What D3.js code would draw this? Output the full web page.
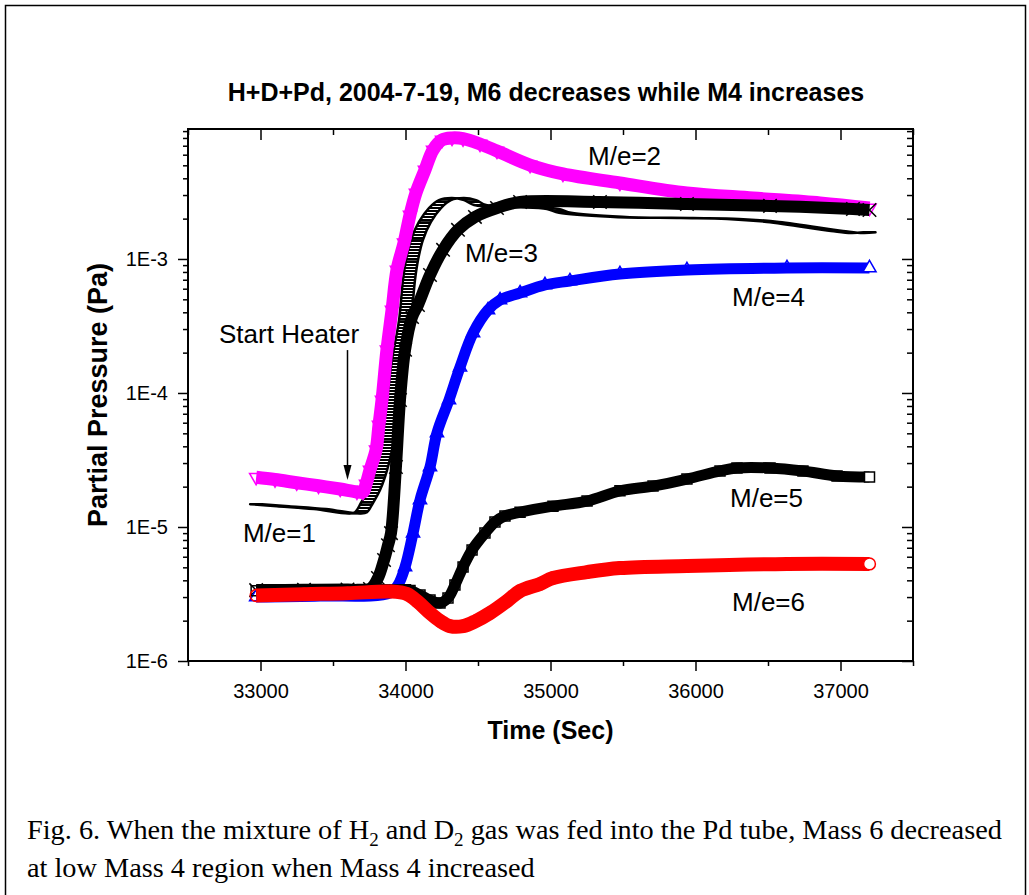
<!DOCTYPE html>
<html>
<head>
<meta charset="utf-8">
<script src="https://cdn.jsdelivr.net/npm/d3@7"></script>
<style>
  body { margin: 0; background: #fff; }
  svg { display: block; }
  .tick line { stroke: #000; stroke-width: 1.5; }
  .tick text { fill: #000; }
</style>
</head>
<body>
<script>
// ---- data (time in s, partial pressure in Pa) ----
var m1 = [[32970,1.48e-5],[33155,1.43e-5],[33410,1.36e-5],[33650,1.26e-5],[33693,1.29e-5],
  [33734,1.51e-5],[33783,1.89e-5],[33817,2.36e-5],[33845,3.0e-5],[33879,4.46e-5],[33914,8.87e-5],
  [33948,1.76e-4],[33997,3.5e-4],[34024,6.97e-4],[34045,9.83e-4],[34079,1.39e-3],[34134,1.89e-3],
  [34203,2.40e-3],[34272,2.75e-3],[34362,2.85e-3],[34445,2.75e-3],[34514,2.53e-3],[34790,2.44e-3],
  [35017,2.36e-3],[35100,2.21e-3],[35479,2.06e-3],[35941,2.02e-3],[36259,1.99e-3],[36534,1.89e-3],
  [36976,1.62e-3],[37114,1.56e-3],[37200,1.58e-3]];

var m2 = [[32970,2.35e-5],[33100,2.26e-5],[33250,2.14e-5],[33400,2.03e-5],[33550,1.92e-5],
  [33665,1.83e-5],[33707,1.82e-5],[33728,2.09e-5],[33755,2.66e-5],[33797,3.76e-5],[33817,5.77e-5],
  [33838,8.87e-5],[33872,2.1e-4],[33907,4.16e-4],[33941,8.28e-4],[33990,1.32e-3],[34031,2.13e-3],
  [34072,3.11e-3],[34134,4.61e-3],[34190,6.51e-3],[34252,7.73e-3],[34321,8.0e-3],[34397,7.9e-3],
  [34514,7.21e-3],[34631,6.4e-3],[34859,5.02e-3],[35086,4.31e-3],[35479,3.69e-3],[35941,3.11e-3],
  [36397,2.85e-3],[36859,2.62e-3],[37200,2.40e-3]];

var m3 = [[32970,3.38e-6],[33300,3.4e-6],[33600,3.42e-6],[33755,3.45e-6],[33810,4.16e-6],
  [33852,5.67e-6],[33879,7.3e-6],[33900,9.0e-6],[33934,2.8e-5],[33962,8.87e-5],[33997,2.1e-4],
  [34045,3.69e-4],[34086,4.54e-4],[34169,7.6e-4],[34259,1.17e-3],[34362,1.65e-3],[34479,2.06e-3],
  [34631,2.40e-3],[34790,2.66e-3],[35341,2.66e-3],[35941,2.57e-3],[36514,2.49e-3],[37086,2.36e-3],
  [37200,2.32e-3]];

var m4 = [[32970,3.0e-6],[33410,3.05e-6],[33893,3.22e-6],[33948,3.69e-6],[33997,5.03e-6],
  [34052,9.0e-6],[34100,1.59e-5],[34169,2.8e-5],[34217,5.03e-5],[34300,8.87e-5],[34376,1.56e-4],
  [34466,2.8e-4],[34569,4.16e-4],[34652,4.94e-4],[34790,5.57e-4],[34962,6.4e-4],[35134,6.85e-4],
  [35479,7.73e-4],[35941,8.28e-4],[36631,8.57e-4],[37200,8.57e-4]];

var m5 = [[32970,3.35e-6],[33300,3.38e-6],[33700,3.42e-6],[34000,3.4e-6],[34031,3.36e-6],
  [34100,3.11e-6],[34169,2.85e-6],[34238,2.71e-6],[34293,2.95e-6],[34341,3.69e-6],[34397,5.03e-6],
  [34459,6.74e-6],[34548,9.0e-6],[34617,1.09e-5],[34686,1.21e-5],[34790,1.29e-5],[35017,1.43e-5],
  [35252,1.56e-5],[35479,1.86e-5],[35707,2.02e-5],[35941,2.28e-5],[36169,2.62e-5],[36286,2.76e-5],
  [36514,2.76e-5],[36741,2.62e-5],[36976,2.40e-5],[37200,2.36e-5]];

var m6 = [[32970,3.08e-6],[33300,3.15e-6],[33600,3.2e-6],[33900,3.3e-6],[34010,3.16e-6],
  [34086,2.76e-6],[34169,2.28e-6],[34238,1.99e-6],[34307,1.82e-6],[34397,1.82e-6],[34486,1.99e-6],
  [34583,2.28e-6],[34700,2.8e-6],[34790,3.33e-6],[34928,3.76e-6],[35017,4.16e-6],[35252,4.61e-6],
  [35479,4.94e-6],[35941,5.12e-6],[36631,5.3e-6],[37200,5.3e-6]];

var xTicks = [33000, 34000, 35000, 36000, 37000];
var xMinorTicks = [32500, 33500, 34500, 35500, 36500, 37500];
var yTicks = [1e-6, 1e-5, 1e-4, 1e-3];
var yTickLabels = ['1E-6', '1E-5', '1E-4', '1E-3'];

// text annotations, placed in data coordinates
var notes = [
  { text: 'Start Heater', t: 32714, v: 2.36e-4 },
  { text: 'M/e=1', t: 32879, v: 7.73e-6 },
  { text: 'M/e=2', t: 35259, v: 5.03e-3 },
  { text: 'M/e=3', t: 34410, v: 9.5e-4 },
  { text: 'M/e=4', t: 36252, v: 4.46e-4 },
  { text: 'M/e=5', t: 36238, v: 1.41e-5 },
  { text: 'M/e=6', t: 36252, v: 2.36e-6 }
];
var heater = { t: 33600, from: 2.09e-4, to: 2.24e-5 };

var width = 1029,
    height = 895,
    margin = { top: 129, right: 116, bottom: 234, left: 188 };

var sans = '"Liberation Sans", Arial, sans-serif',
    serif = '"Liberation Serif", "Times New Roman", serif';

var svg = d3.select('body').append('svg')
    .attr('width', width)
    .attr('height', height);

var plotW = width - margin.left - margin.right,
    plotH = height - margin.top - margin.bottom;

var x = d3.scaleLinear().domain([32500, 37500]).range([0, plotW]),
    y = d3.scaleLog().domain([1e-6, 9.33e-3]).range([plotH, 0]);

// outer frame of the figure
svg.append('rect')
    .attr('x', 5.5).attr('y', 5.5)
    .attr('width', 1020).attr('height', 1000)
    .attr('fill', 'none')
    .attr('stroke', '#000')
    .attr('stroke-width', 1.5);

// hatch used for the stacked dash markers of M/e=1
svg.append('defs').append('pattern')
    .attr('id', 'dashes')
    .attr('width', 4).attr('height', 3)
    .attr('patternUnits', 'userSpaceOnUse')
  .append('rect')
    .attr('width', 4).attr('height', 2)
    .attr('fill', '#000');

var g = svg.append('g')
    .attr('transform', 'translate(' + margin.left + ',' + margin.top + ')');

svg.append('text')
    .attr('x', 546).attr('y', 101)
    .attr('text-anchor', 'middle')
    .attr('font-family', sans)
    .attr('font-size', 25)
    .attr('font-weight', 'bold')
    .text('H+D+Pd, 2004-7-19, M6 decreases while M4 increases');

// ---- axes: labelled ticks outward on left/bottom, mirror ticks inward ----
function styleAxis(sel) {
  sel.select('.domain').remove();
  sel.attr('font-family', sans).attr('font-size', 20);
}

var yMinor = [];
yTicks.forEach(function(p) {
  for (var k = 2; k <= 9; k++) yMinor.push(p * k);
});

g.append('g')
    .attr('transform', 'translate(0,' + plotH + ')')
    .call(d3.axisBottom(x).tickValues(xTicks).tickSize(10).tickPadding(13)
      .tickFormat(d3.format('d')))
    .call(styleAxis);
g.append('g')
    .attr('transform', 'translate(0,' + plotH + ')')
    .call(d3.axisBottom(x).tickValues(xMinorTicks).tickSize(5).tickFormat(''))
    .call(styleAxis);
g.append('g')
    .call(d3.axisBottom(x).tickValues(xTicks).tickSize(11).tickFormat(''))
    .call(styleAxis);
g.append('g')
    .call(d3.axisBottom(x).tickValues(xMinorTicks).tickSize(6).tickFormat(''))
    .call(styleAxis);

g.append('g')
    .call(d3.axisLeft(y).tickValues(yTicks).tickSize(10).tickPadding(10)
      .tickFormat(function(d, i) { return yTickLabels[i]; }))
    .call(styleAxis);
g.append('g')
    .call(d3.axisLeft(y).tickValues(yMinor).tickSize(5).tickFormat(''))
    .call(styleAxis);
g.append('g')
    .attr('transform', 'translate(' + plotW + ',0)')
    .call(d3.axisLeft(y).tickValues(yTicks).tickSize(11).tickFormat(''))
    .call(styleAxis);
g.append('g')
    .attr('transform', 'translate(' + plotW + ',0)')
    .call(d3.axisLeft(y).tickValues(yMinor).tickSize(6).tickFormat(''))
    .call(styleAxis);

g.append('rect')
    .attr('width', plotW).attr('height', plotH)
    .attr('fill', 'none')
    .attr('stroke', '#000')
    .attr('stroke-width', 2);

// axis titles
svg.append('text')
    .attr('x', margin.left + plotW / 2).attr('y', 739)
    .attr('text-anchor', 'middle')
    .attr('font-family', sans).attr('font-size', 25).attr('font-weight', 'bold')
    .text('Time (Sec)');
svg.append('text')
    .attr('transform', 'translate(107,' + (margin.top + plotH / 2) + ') rotate(-90)')
    .attr('text-anchor', 'middle')
    .attr('font-family', sans).attr('font-size', 27).attr('font-weight', 'bold')
    .text('Partial Pressure (Pa)');

// ---- series ----
var curve = d3.curveCatmullRom.alpha(0.5);

var line = d3.line()
    .x(function(d) { return x(d[0]); })
    .y(function(d) { return y(d[1]); })
    .curve(curve);

// horizontal dashes swept along the curve
var sweep = d3.area()
    .x0(function(d) { return x(d[0]) - 6; })
    .x1(function(d) { return x(d[0]) + 6; })
    .y(function(d) { return y(d[1]); })
    .curve(curve);

var series = [
  { data: m1, color: '#000000', marker: 'dash' },
  { data: m2, color: '#ff00ff', marker: 'triDown', band: 13 },
  { data: m3, color: '#000000', marker: 'cross', band: 12 },
  { data: m4, color: '#0000ff', marker: 'triUp', band: 11 },
  { data: m5, color: '#000000', marker: 'square', band: 11 },
  { data: m6, color: '#ff0000', marker: 'circle', band: 14 }
];

var markerPath = {
  dash: 'M-6,0H6',
  triDown: d3.symbol(d3.symbolTriangle, 75)(),
  triUp: d3.symbol(d3.symbolTriangle, 75)(),
  cross: d3.symbol(d3.symbolX, 120)(),
  square: d3.symbol(d3.symbolSquare, 100)(),
  circle: d3.symbol(d3.symbolCircle, 110)()
};

series.forEach(function(s) {
  var sg = g.append('g');

  if (s.marker === 'dash') {
    sg.append('path')
        .attr('d', sweep(s.data))
        .attr('fill', 'url(#dashes)')
        .attr('stroke', s.color)
        .attr('stroke-width', 2.5)
        .attr('stroke-linejoin', 'round');
  } else {
    sg.append('path')
        .attr('d', line(s.data))
        .attr('fill', 'none')
        .attr('stroke', s.color)
        .attr('stroke-width', s.band)
        .attr('stroke-linejoin', 'round')
        .attr('stroke-linecap', 'butt');
  }

  var n = s.data.length;
  sg.selectAll('.pt')
      .data(s.data)
      .enter().append('path')
      .attr('class', 'pt')
      .attr('d', markerPath[s.marker])
      .attr('transform', function(d) {
        return 'translate(' + x(d[0]) + ',' + y(d[1]) + ')' +
          (s.marker === 'triDown' ? ' rotate(180)' : '');
      })
      .attr('fill', function(d, i) {
        return (i === n - 1 && s.marker !== 'cross' && s.marker !== 'dash') ? '#fff' : 'none';
      })
      .attr('stroke', s.color)
      .attr('stroke-width', 1.5);
});

// ---- annotations ----
g.selectAll('.note')
    .data(notes)
    .enter().append('text')
    .attr('class', 'note')
    .attr('x', function(d) { return x(d.t); })
    .attr('y', function(d) { return y(d.v); })
    .attr('font-family', sans)
    .attr('font-size', 26)
    .text(function(d) { return d.text; });

var ax = x(heater.t);
g.append('line')
    .attr('x1', ax).attr('x2', ax)
    .attr('y1', y(heater.from)).attr('y2', y(heater.to) - 12)
    .attr('stroke', '#000').attr('stroke-width', 1.5);
g.append('path')
    .attr('d', 'M' + (ax - 4) + ',' + (y(heater.to) - 15) + 'L' + (ax + 4) + ',' + (y(heater.to) - 15) +
      'L' + ax + ',' + y(heater.to) + 'Z')
    .attr('fill', '#000');

// ---- figure caption ----
var caption = svg.append('g')
    .attr('font-family', serif)
    .attr('font-size', 28.3)
    .attr('fill', '#000');

var c1 = caption.append('text').attr('x', 27).attr('y', 839);
c1.append('tspan').text('Fig. 6. When the mixture of H');
c1.append('tspan').attr('font-size', 19).attr('dy', 7).text('2');
c1.append('tspan').attr('dy', -7).text(' and D');
c1.append('tspan').attr('font-size', 19).attr('dy', 7).text('2');
c1.append('tspan').attr('dy', -7).text(' gas was fed into the Pd tube, Mass 6 decreased');

caption.append('text').attr('x', 27).attr('y', 877)
    .text('at low Mass 4 region when Mass 4 increased');
</script>
</body>
</html>
